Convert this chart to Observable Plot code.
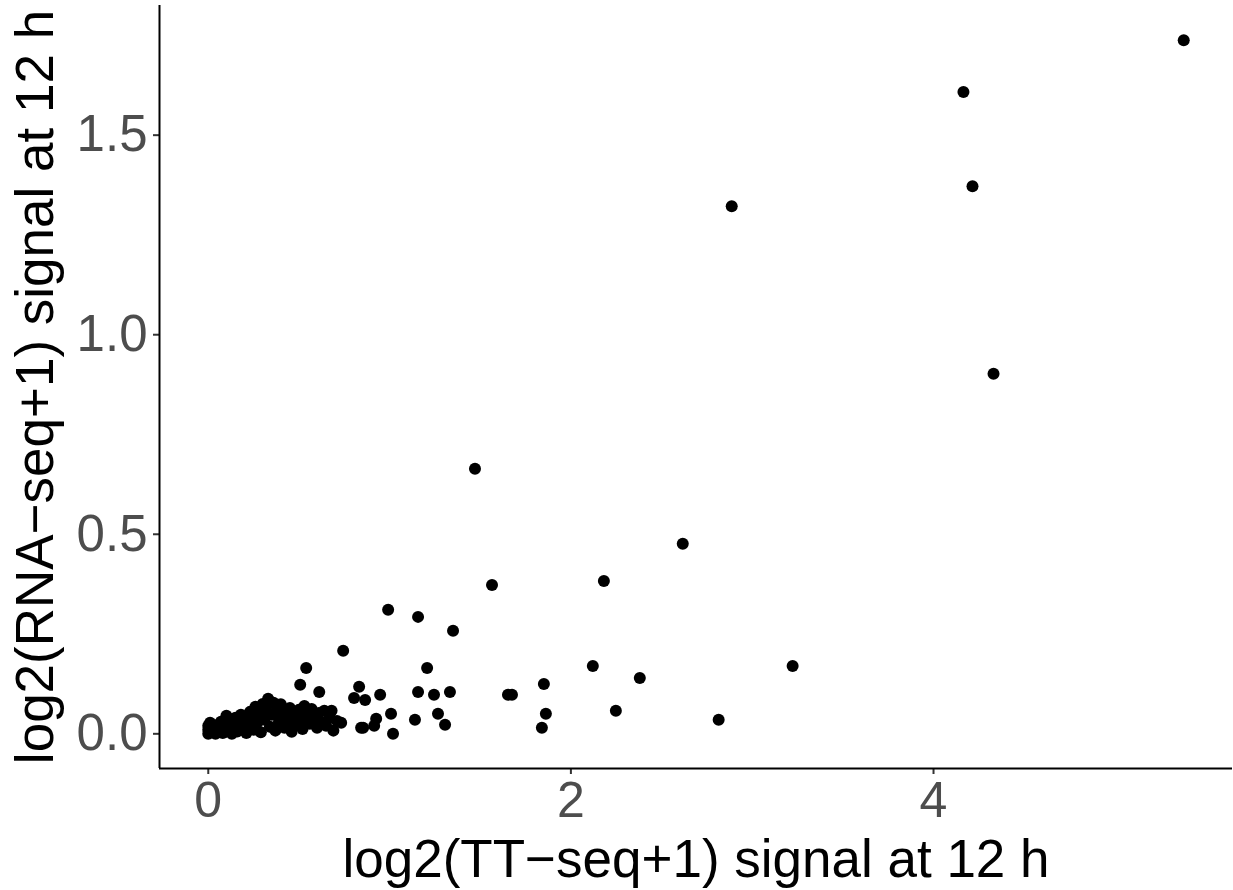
<!DOCTYPE html>
<html>
<head>
<meta charset="utf-8">
<script src="https://cdn.jsdelivr.net/npm/d3@7"></script>
<script src="https://cdn.jsdelivr.net/npm/@observablehq/plot@0.6"></script>
<style>
  html, body { margin: 0; padding: 0; background: #fff; }
  #chart { width: 1233px; height: 890px; }
</style>
</head>
<body>
<div id="chart"></div>
<script>
// TT-seq (x) values, log2(TT-seq+1) at 12 h
const ttSeq = [
  5.38, 4.165, 4.215, 2.887, 4.331, 1.471, 2.617, 2.182, 1.565, 0.992,
  1.157, 1.350, 0.744, 2.121, 3.223, 1.207, 0.540, 2.380, 1.851, 0.507,
  0.612, 0.832, 0.804, 0.865, 0.948, 1.157, 1.245, 1.333, 1.653, 1.675,
  1.008, 0.926, 0.854, 0.915, 1.019, 1.140, 1.267, 1.306, 1.862, 1.840,
  2.248, 2.815, 0.733, 0.843,
  0.00, 0.00, 0.00, 0.01, 0.02, 0.03, 0.04, 0.05, 0.06, 0.07,
  0.08, 0.09, 0.10, 0.11, 0.12, 0.13, 0.14, 0.15, 0.16, 0.17,
  0.18, 0.19, 0.20, 0.21, 0.22, 0.23, 0.24, 0.25, 0.26, 0.27,
  0.28, 0.29, 0.30, 0.31, 0.32, 0.33, 0.34, 0.35, 0.36, 0.37,
  0.38, 0.39, 0.40, 0.41, 0.42, 0.43, 0.44, 0.45, 0.46, 0.47,
  0.48, 0.50, 0.51, 0.52, 0.53, 0.54, 0.56, 0.57, 0.58, 0.60,
  0.61, 0.62, 0.64, 0.65, 0.67, 0.68, 0.69, 0.71
];
// RNA-seq (y) values, log2(RNA-seq+1) at 12 h
const rnaSeq = [
  1.738, 1.608, 1.372, 1.322, 0.902, 0.664, 0.476, 0.383, 0.373, 0.311,
  0.293, 0.258, 0.208, 0.170, 0.170, 0.165, 0.165, 0.140, 0.125, 0.123,
  0.105, 0.118, 0.090, 0.085, 0.098, 0.105, 0.098, 0.105, 0.098, 0.098,
  0.050, 0.038, 0.015, 0.020, 0.000, 0.035, 0.050, 0.023, 0.050, 0.015,
  0.058, 0.035, 0.028, 0.015,
  0.000, 0.010, 0.020, 0.028, 0.004, 0.015, 0.000, 0.022, 0.008, 0.030,
  0.002, 0.018, 0.045, 0.010, 0.032, 0.000, 0.020, 0.040, 0.006, 0.028,
  0.048, 0.012, 0.035, 0.002, 0.022, 0.055, 0.040, 0.010, 0.068, 0.028,
  0.050, 0.004, 0.075, 0.035, 0.060, 0.088, 0.018, 0.048, 0.078, 0.008,
  0.062, 0.030, 0.074, 0.045, 0.015, 0.058, 0.030, 0.065, 0.005, 0.042,
  0.022, 0.060, 0.035, 0.012, 0.070, 0.045, 0.025, 0.062, 0.040, 0.015,
  0.052, 0.030, 0.058, 0.020, 0.040, 0.058, 0.008, 0.032
];
const xTicks = [0, 2, 4];
const yTicks = [0.0, 0.5, 1.0, 1.5];
const xTitle = "log2(TT\u2212seq+1) signal at 12 h";
const yTitle = "log2(RNA\u2212seq+1) signal at 12 h";

const data = ttSeq.map((x, i) => ({x, y: rnaSeq[i]}));

function expand(vals) {
  const [lo, hi] = d3.extent(vals);
  const pad = (hi - lo) * 0.05;
  return [lo - pad, hi + pad];
}
const xDomain = expand(ttSeq);
const yDomain = expand(rnaSeq);

const font = "'Liberation Sans', Arial, Helvetica, sans-serif";

const chart = Plot.plot({
  width: 1233,
  height: 890,
  marginLeft: 159,
  marginRight: 1,
  marginTop: 5,
  marginBottom: 122,
  style: { fontFamily: font, background: "#fff" },
  x: { domain: xDomain, axis: null },
  y: { domain: yDomain, axis: null },
  marks: [
    Plot.axisX({
      ticks: xTicks,
      tickFormat: d => d3.format("d")(d),
      tickSize: 6,
      tickPadding: 7,
      stroke: "#333",
      strokeWidth: 2,
      fill: "#4D4D4D",
      fontSize: 50,
      label: null
    }),
    Plot.axisY({
      ticks: yTicks,
      tickFormat: d => d3.format(".1f")(d),
      tickSize: 6,
      tickPadding: 6,
      stroke: "#333",
      strokeWidth: 2,
      fill: "#4D4D4D",
      fontSize: 51,
      label: null
    }),
    Plot.ruleX([xDomain[0]], {stroke: "#000", strokeWidth: 2}),
    Plot.ruleY([yDomain[0]], {stroke: "#000", strokeWidth: 2}),
    Plot.dot(data, {x: "x", y: "y", r: 6, fill: "#000", stroke: "none"}),
    Plot.text([xTitle], {
      text: d => d, frameAnchor: "bottom", dy: 92,
      fontSize: 53, fill: "#000", lineAnchor: "middle", textAnchor: "middle"
    }),
    Plot.text([yTitle], {
      text: d => d, frameAnchor: "left", dx: -123, rotate: -90,
      fontSize: 53, fill: "#000", lineAnchor: "middle", textAnchor: "middle"
    })
  ]
});
document.getElementById("chart").appendChild(chart);
</script>
</body>
</html>
